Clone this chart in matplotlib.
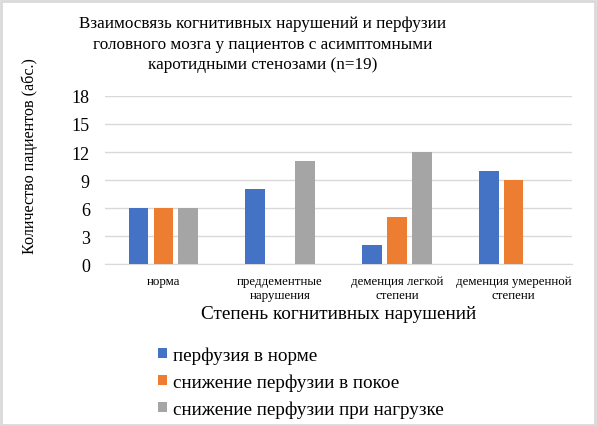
import matplotlib.pyplot as plt
import numpy as np
from matplotlib.patches import Rectangle

categories = ['норма', 'преддементные\nнарушения', 'деменция легкой\nстепени', 'деменция умеренной\nстепени']
series_names = ['перфузия в норме', 'снижение перфузии в покое', 'снижение перфузии при нагрузке']
perf_norm = [6, 8, 2, 10]
perf_rest = [6, 0, 5, 9]
perf_load = [6, 11, 12, 0]
colors = ['#4472c4', '#ed7d31', '#a5a5a5']
yticks = [0, 3, 6, 9, 12, 15, 18]

plt.rcParams['font.family'] = ['Liberation Serif', 'DejaVu Serif']

fig = plt.figure(figsize=(5.97, 4.27), dpi=100)
ax = fig.add_axes([0.176, 0.379, 0.782, 0.394])

x = np.arange(len(categories))
w = 0.17
gap = 0.043
for k, vals in enumerate([perf_norm, perf_rest, perf_load]):
    ax.bar(x + (k - 1) * (w + gap), vals, width=w, color=colors[k], label=series_names[k], zorder=3)

ax.set_xlim(-0.5, len(categories) - 0.5)
ax.set_ylim(0, 18)
ax.set_yticks(yticks)
ax.tick_params(axis='y', length=0, labelsize=13, pad=11)
ax.tick_params(axis='x', length=0, labelsize=9.3, pad=8)
ax.set_xticks(x)
ax.set_xticklabels(categories, linespacing=1.15)
ax.grid(axis='y', color='#d9d9d9', linewidth=1, zorder=0)
for s in ['top', 'right', 'left']:
    ax.spines[s].set_visible(False)
ax.spines['bottom'].set_color('#d9d9d9')

ax.set_xlabel('Степень когнитивных нарушений', fontsize=13.9, labelpad=3)
fig.text(0.05, 0.635, 'Количество пациентов (абс.)', rotation=90, fontsize=11.6, ha='center', va='center')
fig.text(0.44, 0.962, 'Взаимосвязь когнитивных нарушений и перфузии\nголовного мозга у пациентов с асимптомными\nкаротидными стенозами (n=19)',
         ha='center', va='top', fontsize=12.3, linespacing=1.38)

fig.legend(loc='upper left', bbox_to_anchor=(0.252, 0.205), frameon=False, fontsize=13.8,
           handlelength=0.45, handleheight=0.45, handletextpad=0.35, labelspacing=0.5, borderaxespad=0)

fig.patches.append(Rectangle((0.002, 0.003), 0.994, 0.993, transform=fig.transFigure,
                             fill=False, edgecolor='#d9d9d9', linewidth=2))

fig.savefig('out.png', dpi=100)
